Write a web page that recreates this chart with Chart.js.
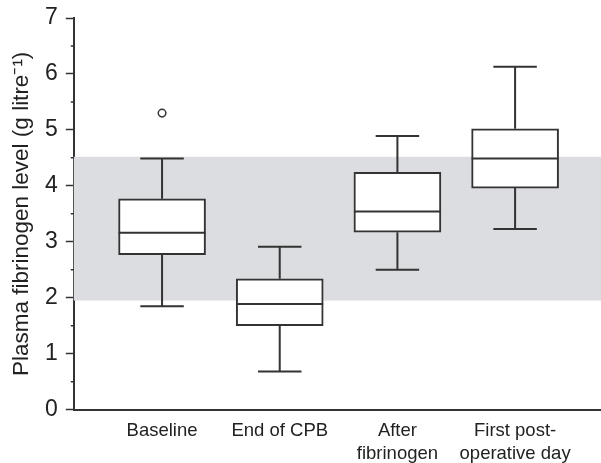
<!DOCTYPE html>
<html>
<head>
<meta charset="utf-8">
<script src="https://cdn.jsdelivr.net/npm/chart.js@4"></script>
<style>
  html, body { margin: 0; padding: 0; background: #fff; }
  #wrap { width: 601px; height: 463px; }
</style>
</head>
<body>
<div id="wrap"><canvas id="box-chart"></canvas></div>
<script>
// Data.
const categories = ['Baseline', 'End of CPB', ['After', 'fibrinogen'], ['First post-', 'operative day']];
const whiskerLow = [1.85, 0.68, 2.50, 3.23];
const quartile1 = [2.77, 1.50, 3.17, 3.96];
const medians = [3.16, 1.89, 3.54, 4.49];
const quartile3 = [3.77, 2.34, 4.24, 5.02];
const whiskerHigh = [4.49, 2.91, 4.89, 6.13];
const outlierCategory = [0];
const outlierValue = [5.30];
const normalRange = [1.95, 4.52];
const yTicks = [0, 1, 2, 3, 4, 5, 6, 7];

const ink = '#333';

// Grey band for the normal range, drawn behind the boxes.
const bandPlugin = {
    id: 'band',
    beforeDatasetsDraw(chart) {
        const { ctx, chartArea, scales } = chart;
        const top = scales.y.getPixelForValue(normalRange[1]);
        const bottom = scales.y.getPixelForValue(normalRange[0]);
        ctx.save();
        ctx.fillStyle = '#dcdde0';
        ctx.fillRect(chartArea.left, top, chartArea.right - chartArea.left, bottom - top);
        ctx.restore();
    }
};

// Whiskers, caps and median lines on top of the floating bars.
const whiskerPlugin = {
    id: 'whiskers',
    afterDatasetsDraw(chart) {
        const { ctx, scales } = chart;
        const bars = chart.getDatasetMeta(0).data;
        ctx.save();
        ctx.strokeStyle = ink;
        ctx.lineWidth = 2;
        bars.forEach((bar, i) => {
            const x = bar.x;
            const half = bar.width / 2;
            const capHalf = bar.width / 4;
            const yLow = scales.y.getPixelForValue(whiskerLow[i]);
            const yQ1 = scales.y.getPixelForValue(quartile1[i]);
            const yMed = scales.y.getPixelForValue(medians[i]);
            const yQ3 = scales.y.getPixelForValue(quartile3[i]);
            const yHigh = scales.y.getPixelForValue(whiskerHigh[i]);
            ctx.beginPath();
            ctx.moveTo(x, yQ3); ctx.lineTo(x, yHigh);
            ctx.moveTo(x - capHalf, yHigh); ctx.lineTo(x + capHalf, yHigh);
            ctx.moveTo(x, yQ1); ctx.lineTo(x, yLow);
            ctx.moveTo(x - capHalf, yLow); ctx.lineTo(x + capHalf, yLow);
            ctx.moveTo(x - half, yMed); ctx.lineTo(x + half, yMed);
            ctx.stroke();
        });
        ctx.restore();
    }
};

// Minor ticks on the y axis at the half units.
const minorTickPlugin = {
    id: 'minorTicks',
    afterDraw(chart) {
        const { ctx, chartArea, scales } = chart;
        ctx.save();
        ctx.strokeStyle = ink;
        ctx.lineWidth = 1.5;
        ctx.beginPath();
        yTicks.slice(0, -1).forEach(v => {
            const y = scales.y.getPixelForValue(v + 0.5);
            ctx.moveTo(chartArea.left - 3, y);
            ctx.lineTo(chartArea.left, y);
        });
        ctx.stroke();
        ctx.restore();
    }
};

new Chart(document.querySelector('#box-chart'), {
    type: 'bar',
    data: {
        datasets: [
            {
                label: 'IQR',
                data: categories.map((c, i) => ({ x: i, y: [quartile1[i], quartile3[i]] })),
                backgroundColor: '#fff',
                borderColor: ink,
                borderWidth: 2,
                borderSkipped: false,
                barThickness: 87,
                order: 2
            },
            {
                type: 'scatter',
                label: 'Outliers',
                data: outlierValue.map((v, i) => ({ x: outlierCategory[i], y: v })),
                pointRadius: 3.8,
                pointBackgroundColor: '#fff',
                pointBorderColor: ink,
                pointBorderWidth: 1.5,
                order: 1
            }
        ]
    },
    options: {
        responsive: true,
        maintainAspectRatio: false,
        animation: false,
        layout: { autoPadding: false, padding: { top: 18, right: 0, left: 8, bottom: -12 } },
        plugins: {
            legend: { display: false },
            tooltip: { enabled: false }
        },
        scales: {
            x: {
                type: 'linear',
                offset: false,
                min: -0.75,
                max: 3.73,
                afterBuildTicks: axis => {
                    axis.ticks = categories.map((c, i) => ({ value: i }));
                },
                afterFit: axis => {
                    axis.paddingLeft = 0;
                    axis.paddingRight = 0;
                },
                grid: { display: false, offset: false, drawTicks: false },
                border: { display: true, color: ink, width: 2 },
                ticks: {
                    color: '#222',
                    padding: 9,
                    maxRotation: 0,
                    autoSkip: false,
                    font: { family: 'Liberation Sans', size: 18.5, lineHeight: 1.28 },
                    callback: v => categories[v]
                }
            },
            y: {
                min: 0,
                max: 7,
                afterBuildTicks: axis => {
                    axis.ticks = yTicks.map(v => ({ value: v }));
                },
                afterFit: axis => {
                    axis.paddingTop = 0;
                    axis.paddingBottom = 0;
                },
                grid: {
                    drawOnChartArea: false,
                    drawTicks: true,
                    tickLength: 8,
                    tickColor: ink,
                    tickWidth: 1.5
                },
                border: { display: true, color: ink, width: 2 },
                ticks: {
                    color: '#222',
                    padding: 8,
                    font: { family: 'Liberation Sans', size: 23 }
                },
                title: {
                    display: true,
                    text: 'Plasma fibrinogen level (g litre\u207B\u00B9)',
                    color: '#222',
                    padding: { top: 0, bottom: 2 },
                    font: { family: 'Liberation Sans', size: 22.5 }
                }
            }
        }
    },
    plugins: [bandPlugin, whiskerPlugin, minorTickPlugin]
});
</script>
</body>
</html>
